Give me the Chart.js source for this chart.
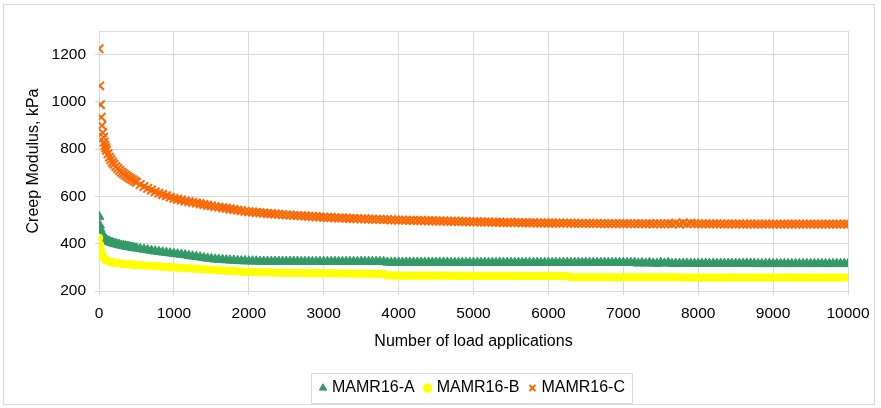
<!DOCTYPE html>
<html>
<head>
<meta charset="utf-8">
<script src="https://cdn.jsdelivr.net/npm/chart.js@4/dist/chart.umd.min.js"></script>
<style>
  html, body { margin: 0; padding: 0; background: #fff; }
  #wrap { position: relative; width: 881px; height: 408px; }
  #frame { position: absolute; left: 3px; top: 4px; width: 872px; height: 401px; border: 1px solid #d9d9d9; box-sizing: border-box; pointer-events: none; }
  canvas { position: absolute; left: 0; top: 0; }
</style>
</head>
<body>
<div id="wrap">
  <canvas id="c" width="881" height="408"></canvas>
  <div id="frame"></div>
</div>
<script>
// Load cycle numbers at which the creep modulus was sampled
const cycles = [
  1, 10, 20, 30, 40, 50, 60, 70, 80, 90, 100, 120, 140, 160, 180, 200, 225, 250, 275, 300,
  325, 350, 375, 400, 425, 450, 475, 500, 550, 600, 650, 700, 750, 800, 850, 900, 950, 1000,
  1050, 1100, 1150, 1200, 1250, 1300, 1350, 1400, 1450, 1500,
  1550, 1600, 1650, 1700, 1750, 1800, 1850, 1900, 1950, 2000,
  2050, 2100, 2150, 2200, 2250, 2300, 2350, 2400, 2450, 2500,
  2550, 2600, 2650, 2700, 2750, 2800, 2850, 2900, 2950, 3000,
  3050, 3100, 3150, 3200, 3250, 3300, 3350, 3400, 3450, 3500,
  3550, 3600, 3650, 3700, 3750, 3800, 3850, 3900, 3950, 4000,
  4050, 4100, 4150, 4200, 4250, 4300, 4350, 4400, 4450, 4500,
  4550, 4600, 4650, 4700, 4750, 4800, 4850, 4900, 4950, 5000,
  5050, 5100, 5150, 5200, 5250, 5300, 5350, 5400, 5450, 5500,
  5550, 5600, 5650, 5700, 5750, 5800, 5850, 5900, 5950, 6000,
  6050, 6100, 6150, 6200, 6250, 6300, 6350, 6400, 6450, 6500,
  6550, 6600, 6650, 6700, 6750, 6800, 6850, 6900, 6950, 7000,
  7050, 7100, 7150, 7200, 7250, 7300, 7350, 7400, 7450, 7500,
  7550, 7600, 7650, 7700, 7750, 7800, 7850, 7900, 7950, 8000,
  8050, 8100, 8150, 8200, 8250, 8300, 8350, 8400, 8450, 8500,
  8550, 8600, 8650, 8700, 8750, 8800, 8850, 8900, 8950, 9000,
  9050, 9100, 9150, 9200, 9250, 9300, 9350, 9400, 9450, 9500,
  9550, 9600, 9650, 9700, 9750, 9800, 9850, 9900, 9950, 10000
];

// Creep modulus (kPa), MAMR16-A
const modulusA = [
  515, 478, 460, 448, 440, 434, 429, 425, 421, 418, 415, 411, 408, 405, 403, 401, 399, 397, 395, 393,
  391, 390, 388, 387, 385, 384, 382, 381, 378, 376, 373, 371, 368, 366, 364, 362, 360, 358,
  356, 354, 352, 349, 347, 345, 343, 340, 338, 336,
  334, 333, 332, 331, 330, 329, 328, 327, 327, 326,
  326, 326, 325, 325, 325, 325, 325, 325, 325, 325,
  325, 325, 325, 324, 324, 324, 324, 324, 324, 324,
  324, 324, 324, 324, 324, 324, 324, 324, 324, 324,
  324, 324, 324, 324, 324, 324, 321, 321, 321, 321,
  321, 321, 321, 321, 321, 321, 321, 321, 321, 321,
  321, 321, 321, 320, 320, 320, 320, 320, 320, 320,
  320, 320, 320, 320, 320, 320, 320, 320, 320, 320,
  320, 320, 320, 320, 320, 320, 320, 320, 320, 320,
  320, 320, 320, 320, 320, 320, 320, 320, 320, 320,
  320, 320, 320, 320, 320, 320, 320, 320, 320, 320,
  320, 320, 320, 317, 319, 317, 319, 317, 316, 319,
  317, 319, 316, 316, 316, 316, 316, 316, 316, 316,
  316, 316, 316, 316, 316, 316, 316, 316, 316, 316,
  316, 316, 316, 316, 316, 315, 315, 315, 315, 315,
  315, 315, 315, 315, 315, 315, 315, 315, 315, 315,
  315, 315, 315, 315, 315, 315, 315, 315, 315, 315
];

// Creep modulus (kPa), MAMR16-B
const modulusB = [
  425, 398, 378, 364, 354, 347, 342, 338, 335, 332, 330, 327, 324, 322, 321, 320, 319, 318, 317, 316,
  315, 314, 314, 313, 312, 312, 311, 310, 309, 308, 307, 306, 305, 304, 303, 302, 301, 300,
  299, 298, 297, 296, 295, 294, 293, 292, 291, 290,
  289, 288, 287, 286, 285, 284, 283, 282, 281, 281,
  280, 280, 279, 279, 279, 278, 278, 278, 277, 277,
  277, 277, 276, 276, 276, 276, 276, 275, 275, 275,
  275, 275, 275, 274, 274, 274, 274, 274, 273, 273,
  273, 273, 273, 272, 272, 272, 266, 266, 265, 265,
  265, 265, 265, 265, 265, 265, 265, 265, 265, 265,
  265, 265, 265, 265, 264, 264, 264, 264, 264, 264,
  264, 264, 264, 264, 264, 264, 264, 264, 264, 264,
  264, 264, 264, 263, 263, 263, 263, 263, 263, 263,
  263, 263, 263, 263, 263, 258, 258, 258, 258, 258,
  258, 258, 258, 258, 258, 258, 258, 258, 258, 258,
  258, 258, 258, 258, 258, 258, 258, 258, 258, 258,
  258, 258, 258, 258, 258, 257, 257, 257, 257, 257,
  257, 257, 257, 257, 257, 257, 257, 257, 257, 257,
  257, 257, 257, 257, 257, 257, 257, 257, 257, 257,
  257, 257, 257, 257, 257, 257, 257, 257, 257, 257,
  257, 257, 257, 257, 257, 257, 257, 257, 257, 257
];

// Creep modulus (kPa), MAMR16-C
const modulusC = [
  1225, 1068, 988, 935, 900, 870, 850, 830, 815, 805, 795, 780, 766, 755, 745, 736, 727, 718, 710, 703,
  697, 691, 685, 680, 675, 670, 665, 660, 650, 642, 634, 627, 620, 614, 608, 603, 597, 592,
  588, 585, 581, 578, 575, 572, 569, 566, 563, 560,
  557, 555, 552, 550, 547, 545, 542, 540, 537, 535,
  534, 532, 531, 530, 528, 527, 526, 525, 523, 522,
  521, 520, 519, 518, 517, 516, 515, 514, 513, 512,
  511, 511, 510, 509, 509, 508, 507, 507, 506, 505,
  505, 504, 504, 503, 503, 502, 502, 501, 501, 500,
  500, 499, 499, 499, 498, 498, 497, 497, 497, 496,
  496, 496, 495, 495, 495, 494, 494, 494, 493, 493,
  493, 492, 492, 492, 491, 491, 491, 490, 490, 490,
  490, 490, 489, 489, 489, 489, 488, 488, 488, 488,
  488, 487, 487, 487, 487, 487, 486, 486, 486, 486,
  486, 486, 486, 485, 485, 485, 485, 485, 485, 485,
  485, 485, 484, 485, 485, 484, 485, 484, 485, 484,
  484, 485, 484, 487, 483, 488, 484, 487, 485, 484,
  484, 484, 484, 484, 484, 484, 483, 484, 484, 483,
  484, 483, 483, 484, 483, 483, 483, 484, 483, 483,
  483, 483, 483, 483, 483, 483, 483, 483, 483, 483,
  483, 483, 483, 483, 483, 483, 483, 483, 483, 483
];

const seriesNames = ['MAMR16-A', 'MAMR16-B', 'MAMR16-C'];
const xTickValues = [0, 1000, 2000, 3000, 4000, 5000, 6000, 7000, 8000, 9000, 10000];
const yTickValues = [200, 400, 600, 800, 1000, 1200];

const toPoints = (vals) => vals.map((v, i) => ({ x: cycles[i], y: v }));

const FONT = "'Liberation Sans', Arial, Helvetica, sans-serif";
Chart.defaults.font.family = FONT;
Chart.defaults.color = '#000';

const GRID = '#d9d9d9';

// Plot frame (top/right edges) and the boxed legend
const framePlugin = {
  id: 'framePlugin',
  afterLayout(chart) {
    const lg = chart.legend, ca = chart.chartArea;
    const shift = (ca.left + ca.right) / 2 - (lg.left + lg.right) / 2;
    lg.left += shift;
    lg.right += shift;
  },
  beforeDatasetsDraw(chart) {
    const { ctx, chartArea: a } = chart;
    ctx.save();
    ctx.strokeStyle = GRID;
    ctx.lineWidth = 1;
    ctx.beginPath();
    ctx.moveTo(Math.round(a.left) + 0.5, Math.round(a.top) + 0.5);
    ctx.lineTo(Math.round(a.right) + 0.5, Math.round(a.top) + 0.5);
    ctx.lineTo(Math.round(a.right) + 0.5, Math.round(a.bottom) + 0.5);
    ctx.stroke();
    ctx.restore();
  },
  afterDraw(chart) {
    const hb = chart.legend.legendHitBoxes;
    if (!hb || !hb.length) return;
    const first = hb[0], last = hb[hb.length - 1];
    const cy = first.top + first.height / 2;
    const left = Math.round(first.left - 11) + 0.5;
    const right = Math.round(last.left + last.width + 7) + 0.5;
    const top = Math.round(cy - 15) + 0.5;
    const ctx = chart.ctx;
    ctx.save();
    ctx.strokeStyle = GRID;
    ctx.lineWidth = 1;
    ctx.strokeRect(left, top, right - left, 30);
    ctx.restore();
  }
};

const plainNumber = (v) => String(v);

new Chart(document.getElementById('c'), {
  type: 'scatter',
  data: {
    datasets: [
      {
        label: seriesNames[0],
        data: toPoints(modulusA),
        pointStyle: 'triangle',
        pointRadius: 5.5,
        backgroundColor: '#339966',
        borderColor: '#339966',
        borderWidth: 1,
        order: 3
      },
      {
        label: seriesNames[1],
        data: toPoints(modulusB),
        pointStyle: 'circle',
        pointRadius: 3.8,
        backgroundColor: '#ffff00',
        borderColor: '#ffff00',
        borderWidth: 1,
        order: 2
      },
      {
        label: seriesNames[2],
        data: toPoints(modulusC),
        pointStyle: 'crossRot',
        pointRadius: 6,
        backgroundColor: '#ff6600',
        borderColor: '#ff6600',
        borderWidth: 2,
        order: 1
      }
    ]
  },
  options: {
    responsive: false,
    animation: false,
    events: [],
    layout: { padding: { left: 0, right: 33, top: 31, bottom: 2 } },
    plugins: {
      tooltip: { enabled: false },
      legend: {
        position: 'bottom',
        labels: {
          usePointStyle: true,
          boxWidth: 2,
          boxHeight: 6,
          padding: 12,
          color: '#000',
          font: { size: 16, family: FONT },
          sort: (a, b) => a.datasetIndex - b.datasetIndex
        }
      }
    },
    scales: {
      x: {
        type: 'linear',
        min: 0,
        max: 10000,
        afterBuildTicks: (s) => { s.ticks = xTickValues.map(v => ({ value: v })); },
        afterFit: (s) => { s.height = 77; },
        grid: { color: GRID, tickLength: 4, drawTicks: true },
        border: { display: false },
        ticks: { padding: 9, font: { size: 15.5, family: FONT }, color: '#000', maxRotation: 0, callback: plainNumber },
        title: {
          display: true,
          text: 'Number of load applications',
          font: { size: 16, family: FONT },
          color: '#000',
          padding: { top: 0, bottom: 17 }
        }
      },
      y: {
        type: 'linear',
        min: 200,
        max: 1300,
        afterBuildTicks: (s) => { s.ticks = yTickValues.map(v => ({ value: v })); },
        afterFit: (s) => { s.width = 99; },
        grid: { color: GRID, tickLength: 4, drawTicks: true },
        border: { display: false },
        ticks: { padding: 9, font: { size: 15.5, family: FONT }, color: '#000', callback: plainNumber },
        title: {
          display: true,
          text: 'Creep Modulus, kPa',
          font: { size: 16, family: FONT },
          color: '#000',
          padding: { top: 24, bottom: 0 }
        }
      }
    }
  },
  plugins: [framePlugin]
});
</script>
</body>
</html>
